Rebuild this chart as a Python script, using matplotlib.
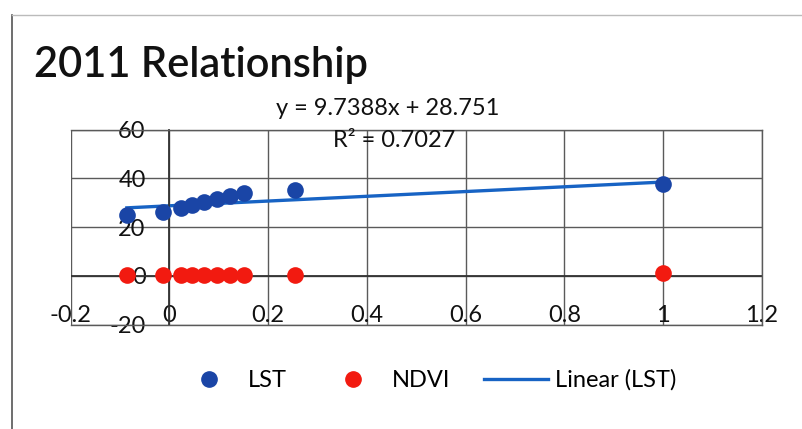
import matplotlib
matplotlib.use("Agg")
import matplotlib.pyplot as plt
from matplotlib.lines import Line2D
import numpy as np

plt.rcParams['font.family'] = ['Lato', 'DejaVu Sans']

# ---- data ----
x_vals = [-0.086, -0.012, 0.023, 0.045, 0.071, 0.097, 0.122, 0.151, 0.254, 1.0]
lst_vals = [25.0, 26.4, 27.8, 29.2, 30.5, 31.5, 32.6, 34.0, 35.4, 37.5]
ndvi_vals = [0.5, 0.3, 0.3, 0.3, 0.3, 0.3, 0.3, 0.3, 0.4, 1.2]
slope = 9.7388
intercept = 28.751
r2 = 0.7027
title = "2011 Relationship"
x_ticks = [-0.2, 0, 0.2, 0.4, 0.6, 0.8, 1.0, 1.2]
x_labels = ["-0.2", "0", "0.2", "0.4", "0.6", "0.8", "1", "1.2"]
y_ticks = [-20, 0, 20, 40, 60]
y_labels = ["-20", "0", "20", "40", "60"]

blue = "#1a45a6"
red = "#f21a10"
line_blue = "#1763c4"
grid_c = "#5a5a5a"
txt = "#111111"

fig = plt.figure(figsize=(8.02, 4.29), dpi=100)
fig.patch.set_facecolor("white")
ax = fig.add_axes([0.088, 0.243, 0.862, 0.455])

ax.set_xlim(-0.2, 1.2)
ax.set_ylim(-20, 60)
ax.set_xticks(x_ticks)
ax.set_xticklabels(x_labels)
ax.set_yticks(y_ticks)
ax.set_yticklabels(y_labels)
ax.grid(True, color=grid_c, linewidth=1.0)
ax.set_axisbelow(True)

for s in ["top", "right", "bottom"]:
    ax.spines[s].set_color(grid_c)
    ax.spines[s].set_linewidth(1.0)
ax.spines["left"].set_position(("data", 0))
ax.spines["left"].set_color("#333333")
ax.spines["left"].set_linewidth(1.3)
ax.axhline(0, color="#333333", linewidth=1.3, zorder=1)

ax.tick_params(axis="x", length=0, pad=-14, labelsize=17, labelcolor=txt)
ax.tick_params(axis="y", length=0, pad=17, labelsize=17, labelcolor=txt)

# trendline
xt = np.array([min(x_vals), max(x_vals)])
ax.plot(xt, slope * xt + intercept, color=line_blue, linewidth=2.4, zorder=2)

ax.plot(x_vals, lst_vals, "o", color=blue, markersize=12, zorder=3,
        markeredgewidth=0)
ax.plot(x_vals, ndvi_vals, "o", color=red, markersize=12, zorder=3,
        markeredgewidth=0)

fig.text(0.483, 0.748, f"y = {slope}x + {intercept}", ha="center", va="center",
         fontsize=17, color=txt)
fig.text(0.492, 0.672, f"R² = {r2}", ha="center", va="center",
         fontsize=17, color=txt)

fig.text(0.042, 0.848, title, ha="left", va="center", fontsize=30,
         fontweight="semibold", color=txt)

# outer chart border
fig.add_artist(Line2D([0.015, 0.015], [0.0, 0.965], transform=fig.transFigure,
                      color="#555555", linewidth=1.2))
fig.add_artist(Line2D([0.015, 1.0], [0.965, 0.965], transform=fig.transFigure,
                      color="#bbbbbb", linewidth=1.0))

h_lst = Line2D([], [], marker="o", color=blue, linestyle="none", markersize=11)
h_ndvi = Line2D([], [], marker="o", color=red, linestyle="none", markersize=11)
h_lin = Line2D([], [], color=line_blue, linewidth=2.4)
fig.legend([h_lst, h_ndvi, h_lin], ["LST", "NDVI", "Linear (LST)"],
           loc="center", bbox_to_anchor=(0.532, 0.114), ncol=3, frameon=False,
           fontsize=17, handlelength=2.7, columnspacing=1.45, handletextpad=0.3)

fig.savefig("out.png", dpi=100)
